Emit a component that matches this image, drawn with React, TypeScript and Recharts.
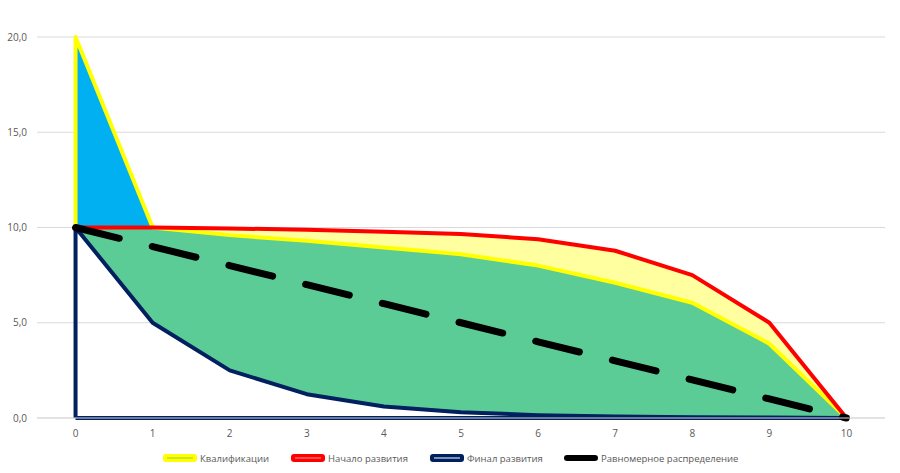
import React from "react";
import { Area, CartesianGrid, ComposedChart, Line, XAxis, YAxis } from "recharts";

// x = 0..10 (категории)
const xs = [0, 1, 2, 3, 4, 5, 6, 7, 8, 9, 10];
// Квалификации: нижняя ветка (в точке 0 ещё пик до 20)
const kvalif = [10, 10, 9.6, 9.3, 8.95, 8.6, 8.0, 7.1, 6.05, 3.9, 0];
const kvalifPeak = 20;
const nachalo = [10, 10, 9.95, 9.88, 9.78, 9.66, 9.38, 8.78, 7.5, 5.0, 0];
const finalRazv = [10, 5, 2.5, 1.25, 0.6, 0.3, 0.15, 0.08, 0.04, 0.02, 0];
const ravnomer = [10, 9, 8, 7, 6, 5, 4, 3, 2, 1, 0];
const yTicks = [0, 5, 10, 15, 20];

const legendItems = [
  { label: "Квалификации", color: "#ffff00", inner: "#92d050", left: 162 },
  { label: "Начало развития", color: "#ff0000", inner: "#ff9999", left: 290 },
  { label: "Финал развития", color: "#002060", inner: "#ffffff", left: 429 },
  { label: "Равномерное распределение", color: "#000000", inner: null, left: 563 }
];

const fillData = xs.map((x, i) => ({
  x,
  blue: i === 0 ? [kvalif[0], kvalifPeak] : i === 1 ? [kvalif[1], nachalo[1]] : null,
  lightYellow: [kvalif[i], nachalo[i]],
  green: [finalRazv[i], kvalif[i]]
}));

const yellowPath = [
  { x: 0, y: kvalif[0] },
  { x: 0, y: kvalifPeak },
  ...xs.slice(1).map((x, i) => ({ x, y: kvalif[i + 1] }))
];
const navyPath = [
  { x: 0, y: 0 },
  ...xs.map((x, i) => ({ x, y: finalRazv[i] })),
  { x: 0, y: 0 }
];
const redPath = xs.map((x, i) => ({ x, y: nachalo[i] }));
const blackPath = xs.map((x, i) => ({ x, y: ravnomer[i] }));

const fmt = (v: number) => v.toFixed(1).replace(".", ",");
const font = "'Open Sans', sans-serif";

export default function App() {
  return (
    <div
      style={{
        position: "fixed",
        left: 0,
        top: 0,
        width: 900,
        height: 473,
        background: "#fff",
        fontFamily: font
      }}
    >
      <ComposedChart
        width={900}
        height={473}
        data={fillData}
        margin={{ top: 37, right: 15, left: 0, bottom: 25 }}
      >
        <CartesianGrid vertical={false} stroke="#d9d9d9" />
        <XAxis
          type="number"
          dataKey="x"
          domain={[-0.5, 10.5]}
          ticks={xs}
          height={30}
          axisLine={{ stroke: "#d9d9d9" }}
          tickLine={false}
          tickMargin={6}
          tick={{ fontSize: 10, fill: "#595959", fontFamily: font }}
        />
        <YAxis
          type="number"
          domain={[0, 20]}
          ticks={yTicks}
          width={37}
          axisLine={false}
          tickLine={false}
          tickMargin={4}
          tickFormatter={fmt}
          tick={{ fontSize: 10, fill: "#595959", fontFamily: font }}
        />
        <Area
          dataKey="green"
          type="linear"
          stroke="none"
          fill="#5ccc96"
          fillOpacity={1}
          isAnimationActive={false}
        />
        <Area
          dataKey="lightYellow"
          type="linear"
          stroke="none"
          fill="#ffff9f"
          fillOpacity={1}
          isAnimationActive={false}
        />
        <Area
          dataKey="blue"
          type="linear"
          stroke="none"
          fill="#00b0f0"
          fillOpacity={1}
          isAnimationActive={false}
        />
        <Line
          data={navyPath}
          dataKey="y"
          type="linear"
          stroke="#002060"
          strokeWidth={4}
          dot={false}
          strokeLinejoin="round"
          isAnimationActive={false}
        />
        <Line
          data={yellowPath}
          dataKey="y"
          type="linear"
          stroke="#ffff00"
          strokeWidth={4}
          dot={false}
          strokeLinejoin="round"
          isAnimationActive={false}
        />
        <Line
          data={redPath}
          dataKey="y"
          type="linear"
          stroke="#ff0000"
          strokeWidth={4}
          dot={false}
          strokeLinejoin="round"
          isAnimationActive={false}
        />
        <Line
          data={blackPath}
          dataKey="y"
          type="linear"
          stroke="#000000"
          strokeWidth={7}
          strokeDasharray="45 34"
          strokeLinecap="round"
          dot={false}
          isAnimationActive={false}
        />
      </ComposedChart>
      {legendItems.map((it) => (
        <div
          key={it.label}
          style={{
            position: "absolute",
            left: it.left,
            top: 451,
            height: 14,
            display: "flex",
            alignItems: "center",
            fontSize: 9.5,
            color: "#595959",
            whiteSpace: "nowrap"
          }}
        >
          <svg width={36} height={10} style={{ marginRight: 2 }}>
            {it.inner ? (
              <>
                <rect x={1} y={1} width={34} height={8} rx={3} fill={it.color} />
                <line x1={5} x2={31} y1={5} y2={5} stroke={it.inner} strokeWidth={1} />
              </>
            ) : (
              <line
                x1={4}
                x2={32}
                y1={5}
                y2={5}
                stroke={it.color}
                strokeWidth={6}
                strokeLinecap="round"
              />
            )}
          </svg>
          {it.label}
        </div>
      ))}
    </div>
  );
}
